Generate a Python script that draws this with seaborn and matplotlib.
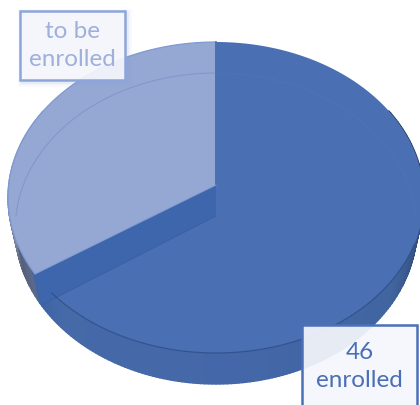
import numpy as np
import matplotlib
matplotlib.use("Agg")
import matplotlib.pyplot as plt
from matplotlib.colors import to_rgb
from matplotlib.patches import Rectangle
import seaborn as sns

# data
labels = ["46\nenrolled", "to be\nenrolled"]
values = [46, 24]

# pie geometry, in picture pixels
CX, APEX_Y, TOP_Y, BOTTOM_Y, RX, DEPTH = 216, 185, 42, 353, 207.3, 31
BASE_SCALE = 0.965  # base of the pie sits further away, so it looks narrower
c = (TOP_Y + BOTTOM_Y - 2 * APEX_Y) / (BOTTOM_Y - TOP_Y)
a = TOP_Y * (1 + c) - APEX_Y


def project(theta, r=1.0, base=False):
    # theta is clockwise from 12 o'clock, in degrees
    t = np.radians(theta)
    u, v = r * np.sin(t), r * np.cos(t)
    w = 1 + c * v
    x, y = RX * u / w, (a * v + APEX_Y) / w
    if base:
        return CX + x * BASE_SCALE, y + DEPTH
    return CX + x, y


def sector(t0, t1, n=200):
    th = np.linspace(t0, t1, n)
    x, y = project(th)
    return np.r_[CX, x], np.r_[APEX_Y, y]


def wall_colour(theta):
    stops = [90, 104, 125, 175, 225, 237, 240, 250, 262, 270]
    cols = ["#1f3352", "#2f4a7a", "#41659f", "#4367a8", "#466aa8", "#3d63a5",
            "#5b6a8c", "#555f78", "#7f8dab", "#8fa3d0"]
    rgb = np.array([to_rgb(h) for h in cols])
    return [np.interp(theta, stops, rgb[:, i]) for i in range(3)]


sns.set_theme(style="white")
plt.rcParams["font.family"] = ["Lato", "DejaVu Sans"]

fig = plt.figure(figsize=(4.2, 4.05), dpi=100)
ax = fig.add_axes([0, 0, 1, 1])
ax.set_xlim(0, 420)
ax.set_ylim(405, 0)
ax.axis("off")

split = 360 * values[0] / sum(values)

# side wall, front half of the rim
steps = np.linspace(60, 300, 241)
for t0, t1 in zip(steps[:-1], steps[1:]):
    pair = np.array([t0, t1])
    x0, y0 = project(pair)
    x1, y1 = project(pair, base=True)
    col = wall_colour((t0 + t1) / 2)
    ax.fill(np.r_[x0, x1[::-1]], np.r_[y0, y1[::-1]], color=col, ec=col, lw=1.0, zorder=1)

# top faces
x, y = sector(0, split)
ax.fill(x, y, color="#4a70b3", lw=0, zorder=2)

# cut face showing through the enrolled slice
rx, ry = project(np.array(split))
bx, by = project(np.array(split), base=True)
ax.fill([CX, rx, bx, CX], [APEX_Y, ry, by, APEX_Y + DEPTH],
        color="#3d66ad", lw=0, zorder=3)
ax.plot([CX, bx], [APEX_Y + DEPTH, by], color="#3a5f9f", lw=0.6, zorder=3)

# rim line of the enrolled slice
th = np.linspace(112, split - 8, 150)
ax.plot(*project(th), color="#2c4c86", lw=0.9, alpha=0.75, zorder=4)

x, y = sector(split, 360)
ax.fill(x, y, color="#95a7d3", lw=0, zorder=5)
th = np.linspace(split, 360, 150)
ax.plot(*project(th), color="#7f9ad0", lw=0.9, zorder=6)
ax.plot([CX, CX], [TOP_Y, APEX_Y], color="#4a70b3", lw=1.4, zorder=6)
ax.plot([CX, rx], [APEX_Y, ry], color="#7f9ad0", lw=0.7, zorder=6)

# far edge of the base seen through the faces
th = np.linspace(-90, 90, 200)
ax.plot(*project(th, base=True), color="#5a78b8", lw=0.7, alpha=0.35, zorder=7)


def label_box(text, x0, y0, x1, y1, edge, tcol, shadow):
    if shadow:
        for grow, al in [(9, 0.05), (6, 0.07), (3, 0.09)]:
            ax.add_patch(Rectangle((x0 + 2 - grow / 2, y0 + 2 - grow / 2), x1 - x0 + grow, y1 - y0 + grow,
                                   fc=edge, ec="none", alpha=al, zorder=8))
    ax.add_patch(Rectangle((x0, y0), x1 - x0, y1 - y0, fc="#f6f7fc", ec="none", alpha=0.92, zorder=9))
    ax.add_patch(Rectangle((x0, y0), x1 - x0, y1 - y0, fc="none", ec=edge, lw=1.8, zorder=10))
    ax.text((x0 + x1) / 2, (y0 + y1) / 2, text, ha="center", va="center", color=tcol,
            fontsize=17.5, linespacing=1.45, zorder=11)


label_box(labels[1], 20, 11, 125, 80, "#8ea5da", "#9fb0dc", True)
label_box(labels[0], 302, 325, 417, 408, "#4a70b8", "#4a6fb5", False)

fig.savefig("out.png", dpi=100)
